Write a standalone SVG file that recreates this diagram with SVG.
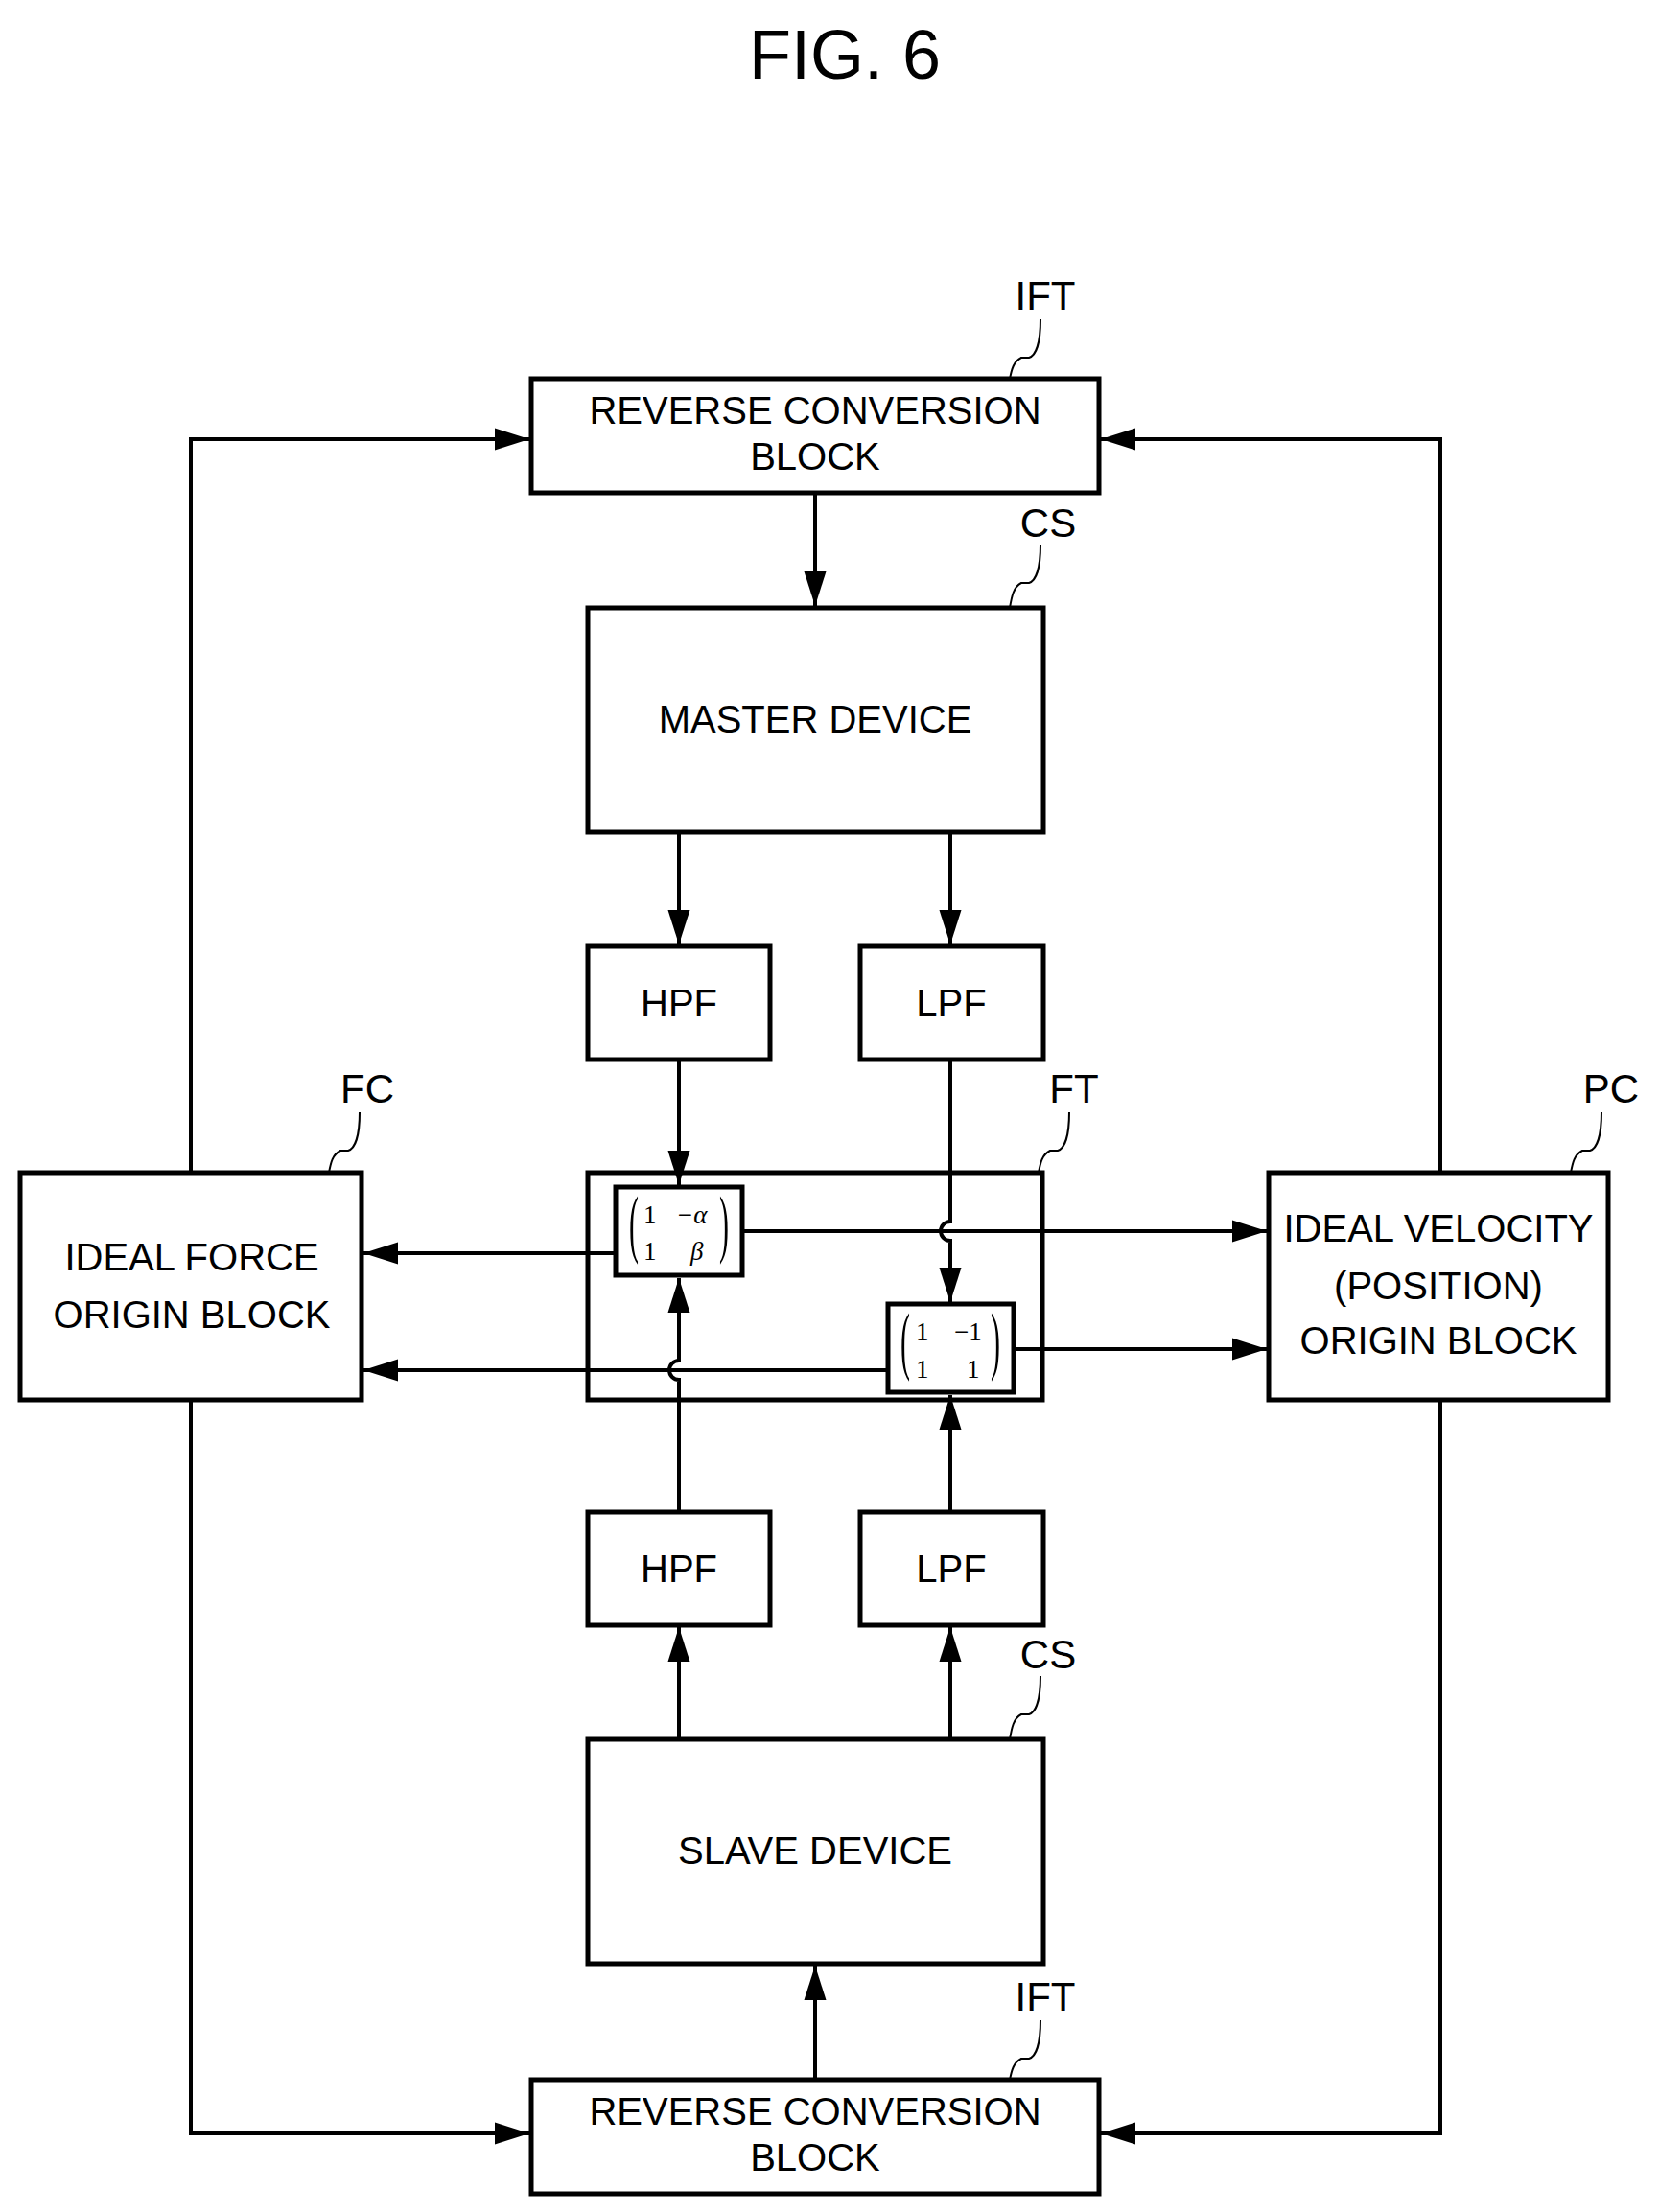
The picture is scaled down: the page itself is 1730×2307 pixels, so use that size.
<svg xmlns="http://www.w3.org/2000/svg" width="1730" height="2307" viewBox="0 0 1730 2307">
<style>
.b{fill:#fff;stroke:#000;stroke-width:5}
.o{fill:none;stroke:#000;stroke-width:5}
.l{fill:none;stroke:#000;stroke-width:4}
.t{font-family:"Liberation Sans",Arial,sans-serif;font-size:40px;text-anchor:middle;fill:#000}
.r{font-family:"Liberation Sans",Arial,sans-serif;font-size:42px;text-anchor:middle;fill:#000}
.m{font-family:"Liberation Serif","Times New Roman",serif;font-size:27px;fill:#000}
.p{font-family:"Liberation Serif","Times New Roman",serif;font-size:60px;fill:#000}
</style>
<defs><marker id="a" viewBox="0 0 10 10" refX="10" refY="5" markerWidth="9" markerHeight="9" markerUnits="strokeWidth" orient="auto"><path d="M0,1.8L10,5L0,8.2Z" fill="#000"/></marker></defs>
<rect width="1730" height="2307" fill="#fff"/>
<text x="881" y="82" class="t" style="font-size:72px">FIG. 6</text>
<g id="connectors">
<path class="l" marker-end="url(#a)" d="M850,516V632"/>
<path class="l" marker-end="url(#a)" d="M708,868V985"/>
<path class="l" marker-end="url(#a)" d="M991,868V985"/>
<path class="l" marker-end="url(#a)" d="M708,1105V1236"/>
<path class="l" marker-end="url(#a)" d="M991,1105V1274a10,10 0 0 0 0,20V1358"/>
<path class="l" marker-end="url(#a)" d="M708,1577V1439a10,10 0 0 1 0,-20V1333"/>
<path class="l" marker-end="url(#a)" d="M991,1577V1455"/>
<path class="l" marker-end="url(#a)" d="M708,1814V1697"/>
<path class="l" marker-end="url(#a)" d="M991,1814V1697"/>
<path class="l" marker-end="url(#a)" d="M850,2169V2050"/>
<path class="l" marker-end="url(#a)" d="M642,1307H379"/>
<path class="l" marker-end="url(#a)" d="M926,1429H379"/>
<path class="l" marker-end="url(#a)" d="M774,1284H1321"/>
<path class="l" marker-end="url(#a)" d="M1057,1407H1321"/>
<path class="l" marker-end="url(#a)" d="M199,1223V458H552"/>
<path class="l" marker-end="url(#a)" d="M1502,1223V458H1148"/>
<path class="l" marker-end="url(#a)" d="M199,1460V2225H552"/>
<path class="l" marker-end="url(#a)" d="M1502,1460V2225H1148"/>
</g>
<g id="leaders" fill="none" stroke="#000" stroke-width="2">
<path d="M1085,333c0,25 -5,38 -12,40h-8c-8,4 -10,12 -12,22"/>
<path d="M1085,568c0,25 -5,38 -12,40h-8c-8,4 -10,14 -12,26"/>
<path d="M375,1160c0,25 -5,38 -12,40h-8c-8,4 -10,12 -12,23"/>
<path d="M1115,1160c0,25 -5,38 -12,40h-8c-8,4 -10,12 -12,23"/>
<path d="M1670,1160c0,25 -5,38 -12,40h-8c-8,4 -10,12 -12,23"/>
<path d="M1085,1748c0,25 -5,38 -12,40h-8c-8,4 -10,14 -12,26"/>
<path d="M1085,2107c0,25 -5,38 -12,40h-8c-8,4 -10,12 -12,22"/>
</g>
<g id="labels">
<text class="r" x="1090" y="323">IFT</text>
<text class="r" x="1093" y="560">CS</text>
<text class="r" x="383" y="1150">FC</text>
<text class="r" x="1120" y="1150">FT</text>
<text class="r" x="1680" y="1150">PC</text>
<text class="r" x="1093" y="1740">CS</text>
<text class="r" x="1090" y="2097">IFT</text>
</g>
<g id="ift-top"><rect class="b" x="554" y="395" width="592" height="119"/><text class="t" x="850" y="442">REVERSE CONVERSION</text><text class="t" x="850" y="490">BLOCK</text></g>
<g id="master"><rect class="b" x="613" y="634" width="475" height="234"/><text class="t" x="850" y="764">MASTER DEVICE</text></g>
<g id="hpf-top"><rect class="b" x="613" y="987" width="190" height="118"/><text class="t" x="708" y="1060">HPF</text></g>
<g id="lpf-top"><rect class="b" x="897" y="987" width="191" height="118"/><text class="t" x="992" y="1060">LPF</text></g>
<g id="ft"><rect class="o" x="613" y="1223" width="474" height="237"/></g>
<g id="matrix1"><rect class="b" x="642" y="1238" width="132" height="92"/>
<text class="p" x="656" y="1302" transform="translate(656 1302) scale(0.5 1.3) translate(-656 -1302)">(</text>
<text class="p" x="750" y="1302" transform="translate(750 1302) scale(0.5 1.3) translate(-750 -1302)">)</text>
<text class="m" x="671" y="1276">1</text><text class="m" x="705" y="1276" font-style="italic">−α</text>
<text class="m" x="671" y="1314">1</text><text class="m" x="720" y="1314" font-style="italic">β</text></g>
<g id="matrix2"><rect class="b" x="926" y="1360" width="131" height="92"/>
<text class="p" x="939" y="1424" transform="translate(939 1424) scale(0.5 1.3) translate(-939 -1424)">(</text>
<text class="p" x="1033" y="1424" transform="translate(1033 1424) scale(0.5 1.3) translate(-1033 -1424)">)</text>
<text class="m" x="955" y="1398">1</text><text class="m" x="995" y="1398">−1</text>
<text class="m" x="955" y="1437">1</text><text class="m" x="1008" y="1437">1</text></g>
<g id="fc"><rect class="b" x="21" y="1223" width="356" height="237"/><text class="t" x="200" y="1325">IDEAL FORCE</text><text class="t" x="200" y="1385">ORIGIN BLOCK</text></g>
<g id="pc"><rect class="b" x="1323" y="1223" width="354" height="237"/><text class="t" x="1500" y="1295">IDEAL VELOCITY</text><text class="t" x="1500" y="1355">(POSITION)</text><text class="t" x="1500" y="1412">ORIGIN BLOCK</text></g>
<g id="hpf-bot"><rect class="b" x="613" y="1577" width="190" height="118"/><text class="t" x="708" y="1650">HPF</text></g>
<g id="lpf-bot"><rect class="b" x="897" y="1577" width="191" height="118"/><text class="t" x="992" y="1650">LPF</text></g>
<g id="slave"><rect class="b" x="613" y="1814" width="475" height="234"/><text class="t" x="850" y="1944">SLAVE DEVICE</text></g>
<g id="ift-bot"><rect class="b" x="554" y="2169" width="592" height="119"/><text class="t" x="850" y="2216">REVERSE CONVERSION</text><text class="t" x="850" y="2264">BLOCK</text></g>
</svg>
